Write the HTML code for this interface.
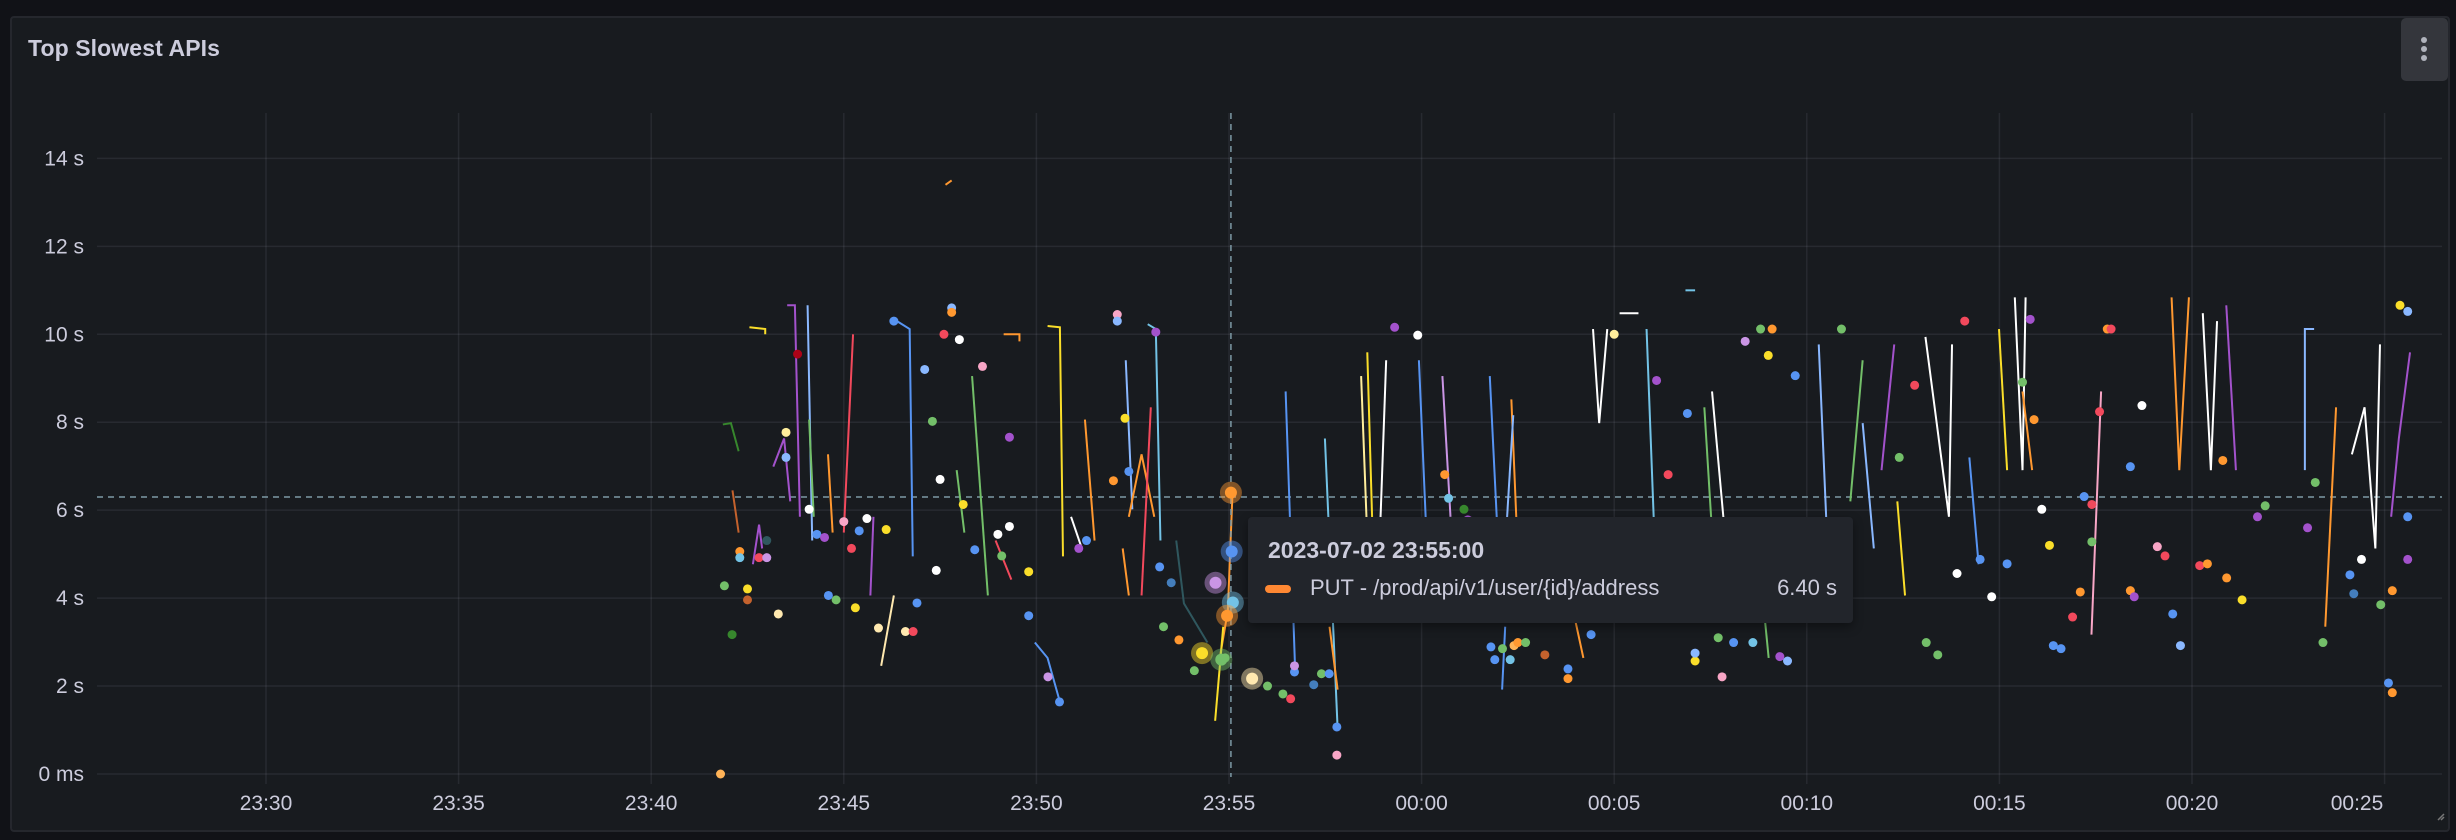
<!DOCTYPE html>
<html><head><meta charset="utf-8"><style>
html,body{margin:0;padding:0;background:#111217;width:2456px;height:840px;overflow:hidden;font-family:"Liberation Sans",sans-serif;}
#panel{position:absolute;left:10px;top:16px;width:2440px;height:816px;background:#181b1f;border:2px solid #25272d;border-radius:4px;box-sizing:border-box;}
#title{position:absolute;left:28px;top:35px;color:#ccccdc;font-size:23px;font-weight:bold;letter-spacing:0.1px;}
#menu{position:absolute;left:2401px;top:18px;width:47px;height:63px;background:#34363c;border-radius:5px;}
#menu i{position:absolute;left:20px;width:6px;height:6px;border-radius:3px;background:#b0b3bc;}
#tip{position:absolute;left:1248px;top:517px;width:605px;height:106px;background:#22252b;border-radius:4px;box-shadow:0 4px 10px rgba(0,0,0,0.4);color:#ccccdc;}
#tip .t{position:absolute;left:20px;top:20px;font-size:23px;font-weight:bold;}
#tip .pill{position:absolute;left:17px;top:68px;width:26px;height:8px;border-radius:4px;background:#ff8833;}
#tip .n{position:absolute;left:62px;top:58px;font-size:22px;}
#tip .v{position:absolute;right:16px;top:58px;font-size:22px;}
svg{position:absolute;left:0;top:0;}
</style></head><body>
<div id="panel"></div>
<div id="title">Top Slowest APIs</div>
<div id="menu"><i style="top:19px"></i><i style="top:28px"></i><i style="top:37px"></i></div>
<svg id="chart" width="2456" height="840"></svg>
<div id="tip">
<div class="t">2023-07-02 23:55:00</div>
<div class="pill"></div>
<div class="n">PUT - /prod/api/v1/user/{id}/address</div>
<div class="v">6.40 s</div>
</div>
<script>
// time in minutes after 23:25, values in seconds
const yTicks=[0,2,4,6,8,10,12,14];
const yTickLabels=["0 ms","2 s","4 s","6 s","8 s","10 s","12 s","14 s"];
const xTicks=[5,10,15,20,25,30,35,40,45,50,55,60];
const xTickLabels=["23:30","23:35","23:40","23:45","23:50","23:55","00:00","00:05","00:10","00:15","00:20","00:25"];
const thresholdValue=6.3;
const cursorTime=30.05;
const palette={green:"#73bf69",dgreen:"#37872d",orange:"#ff9830",lblue:"#8ab8ff",blue:"#5794f2",yellow:"#fade2a",red:"#f2495c",purple:"#a352cc",lav:"#ca95e5",pink:"#f8a6c6",cream:"#ffe9b0",white:"#ffffff",teal:"#447ebc",cyan:"#73c3e6",peach:"#ffb357",brown:"#c4622d",dteal:"#2f575e",vpurple:"#8f3bb8",lyellow:"#ffee9c",dred:"#ad0317"};
const dotTimes=[16.8,16.9,17.1,17.3,17.3,17.5,17.5,17.8,18.0,18.0,18.3,18.5,18.5,18.8,19.1,19.3,19.5,19.6,19.8,20.0,20.2,20.3,20.4,20.6,20.9,21.1,21.3,21.6,21.8,21.9,22.1,22.3,22.4,22.5,22.6,22.8,22.8,23.0,23.1,23.4,23.6,24.0,24.1,24.3,24.3,24.8,24.8,25.3,25.6,26.1,26.3,27.0,27.1,27.1,27.3,27.4,28.1,28.2,28.3,28.5,28.7,29.1,29.9,31.0,31.4,31.6,31.7,31.7,32.2,32.4,32.6,32.8,32.8,
34.3,34.9,35.6,35.7,36.1,36.2,36.8,36.9,37.1,37.3,37.4,37.5,37.7,38.2,38.8,38.8,39.4,40.0,41.1,41.4,41.9,42.1,42.1,42.7,42.8,43.1,43.4,43.6,43.8,44.0,44.1,44.3,44.5,44.7,45.9,47.4,47.8,48.1,48.4,48.9,49.1,49.5,49.8,50.2,50.6,50.8,50.9,51.1,51.3,51.4,51.6,51.9,52.1,52.2,52.4,52.4,52.6,52.8,52.9,53.4,53.4,53.5,53.7,54.1,54.3,54.5,54.7,55.2,55.4,55.8,55.9,56.3,56.7,56.9,58.0,58.2,58.4,59.1,59.2,59.4,59.9,60.1,60.2,60.2,60.4,60.6,60.6,60.6];
const dotValues=[0,4.28,3.17,5.06,4.92,4.21,3.96,4.92,4.92,5.31,3.64,7.77,7.2,9.55,6.02,5.45,5.38,4.06,3.96,5.74,5.13,3.78,5.53,5.81,3.32,5.56,10.3,3.24,3.24,3.89,9.2,8.02,4.63,6.7,10.0,10.6,10.5,9.88,6.13,5.1,9.27,5.45,4.96,7.66,5.63,3.6,4.6,2.21,1.64,5.13,5.31,6.67,10.45,10.3,8.09,6.88,10.05,4.71,3.35,4.35,3.05,2.35,2.64,2.0,1.82,1.71,2.32,2.46,2.03,2.28,2.28,1.07,0.43,
10.16,9.98,6.81,6.27,6.02,5.78,2.89,2.6,2.85,2.6,2.92,2.99,2.99,2.71,2.39,2.17,3.17,10.0,8.95,6.81,8.2,2.57,2.75,3.1,2.21,2.99,9.84,2.99,10.12,9.52,10.12,2.67,2.57,9.06,10.12,7.2,8.84,2.99,2.71,4.56,10.3,4.88,4.03,4.78,8.91,10.34,8.06,6.02,5.2,2.92,2.85,3.57,4.14,6.31,6.13,5.28,8.24,10.12,10.12,4.17,6.99,4.03,8.38,5.17,4.96,3.64,2.92,4.74,4.78,7.13,4.46,3.96,5.85,6.1,5.6,6.63,2.99,4.53,4.1,4.88,3.85,2.07,4.17,1.85,10.66,10.52,5.85,4.88];
const dotColors=["peach","green","dgreen","orange","cyan","yellow","brown","red","lav","dteal","cream","lyellow","lblue","dred","white","blue","purple","blue","green","pink","red","yellow","blue","white","cream","yellow","blue","cream","red","blue","lblue","green","white","white","red","lblue","orange","white","yellow","blue","pink","white","green","purple","white","blue","yellow","lav","blue","purple","blue","orange","pink","lblue","yellow","blue","purple","blue","green","teal","orange","green","green","green","green","red","blue","lav","teal","green","blue","blue","pink",
"purple","white","orange","cyan","dgreen","purple","blue","blue","green","cyan","peach","orange","green","brown","blue","orange","blue","lyellow","purple","red","blue","yellow","lblue","green","pink","blue","lav","cyan","green","yellow","orange","purple","lblue","blue","green","green","red","green","green","white","red","blue","white","blue","green","purple","orange","white","yellow","blue","blue","red","orange","blue","red","green","red","orange","red","orange","blue","purple","white","pink","red","blue","lblue","red","orange","orange","orange","yellow","purple","green","purple","green","green","blue","teal","white","green","blue","orange","orange","yellow","lblue","blue","purple"];
const lineTimes=[[16.86,17.07,17.27],[17.11,17.27],[17.64,17.8,17.88],[17.55,17.96,17.96],[18.53,18.73,18.86],[18.17,18.45,18.61],[19.06,19.18],[19.1,19.22],[20.0,20.24],[19.59,19.71],[21.38,21.71,21.79],[20.97,21.3],[20.69,20.77],[23.33,23.74],[22.93,23.13],[24.15,24.56,24.56],[23.94,24.35],[25.29,25.61,25.69],[24.96,25.29,25.61],[25.9,26.18],[26.26,26.51],[27.32,27.49],[27.89,28.1,28.22],[27.24,27.4],[27.4,27.73,28.06],[27.73,27.97],[29.76,29.97,30.09],[28.63,28.83,29.44],[29.64,29.85],[31.47,31.72],[32.49,32.82],[32.61,32.82],[33.43,33.63],[33.92,34.08],[33.59,33.75],[34.93,35.14],[35.54,35.75],[37.33,37.5],[36.77,36.97],[37.17,37.38],[39.45,39.61,39.82],[40.84,41.04],[40.14,40.63],[42.34,42.54],[41.85,42.1],[42.54,42.87],[45.31,45.52],[46.45,46.74],[48.08,48.69,48.77],[49.99,50.2],[50.4,50.6,50.68],[50.6,50.85],[52.39,52.64],[54.47,54.67,54.92],[55.28,55.49,55.65],[55.89,56.14],[57.93,57.93,58.17],[59.15,59.48,59.76,59.88],[60.17,60.37,60.66],[58.46,58.74],[49.22,49.46],[47.35,47.55],[46.94,47.27],[46.13,46.45],[37.09,37.17],[43.89,44.01],[38.98,39.2],[22.64,22.8]];
const lineValues=[[7.95,7.98,7.34],[6.45,5.49],[4.77,5.67,5.13],[10.16,10.12,10.0],[10.66,10.66,5.85],[6.99,7.63,6.2],[10.66,5.31],[8.06,5.85],[5.49,10.0],[7.27,5.49],[10.3,10.12,4.95],[2.46,4.06],[4.06,5.85],[9.05,4.06],[6.91,5.49],[10.0,10.0,9.84],[5.31,4.42],[10.19,10.16,4.95],[2.99,2.64,1.64],[5.85,5.13],[8.06,5.31],[9.41,6.02],[10.23,10.12,5.31],[5.13,4.06],[5.85,7.27,5.85],[4.06,8.34],[2.64,3.71,6.38],[5.31,3.88,2.99],[1.21,3.35],[8.7,2.28],[7.63,1.03],[3.35,1.92],[9.05,4.42],[5.49,9.41],[9.59,4.77],[9.41,5.13],[9.05,5.85],[8.52,4.95],[9.05,5.49],[5.13,8.16],[10.12,7.98,10.12],[10.12,5.49],[10.48,10.48],[8.34,5.49],[11.0,11.0],[8.7,5.49],[9.77,5.49],[7.98,5.13],[9.94,5.85,9.77],[10.12,6.91],[10.84,6.91,10.84],[8.7,6.91],[3.17,8.7],[10.84,6.91,10.84],[10.48,6.91,10.3],[10.66,6.91],[6.91,10.12,10.12],[7.27,8.34,5.13,9.77],[5.85,7.63,9.59],[3.35,8.34],[7.2,4.77],[6.2,4.06],[6.91,9.77],[6.2,9.41],[1.92,3.35],[3.71,2.64],[3.53,2.64],[13.4,13.5]];
const lineColors=["dgreen","brown","purple","yellow","purple","purple","lblue","green","red","orange","blue","cream","purple","green","green","orange","red","yellow","blue","white","orange","lblue","cyan","orange","orange","red","orange","dteal","yellow","blue","cyan","orange","lyellow","white","yellow","blue","lav","orange","blue","lblue","white","cyan","white","green","cyan","white","lblue","lblue","white","yellow","white","orange","pink","orange","white","purple","lblue","white","purple","orange","blue","yellow","purple","green","blue","green","orange","orange"];
const highlightTimes=[30.05,30.07,30.1,29.95,29.3,29.65,30.6,29.8];
const highlightValues=[6.4,5.06,3.9,3.6,2.75,4.35,2.17,2.6];
const highlightColors=["orange","blue","cyan","orange","yellow","lav","cream","green"];

const L=97,R=2412,T=158,B=774;
const xS=m=>266+(m-5)*38.52;
const yS=v=>774-v*43.97;
const svg=document.getElementById('chart');
const NS="http://www.w3.org/2000/svg";
function mk(tag,attrs){const e=document.createElementNS(NS,tag);for(const k in attrs)e.setAttribute(k,attrs[k]);svg.appendChild(e);return e;}
yTicks.forEach((v,i)=>{
  const g=mk('line',{x1:L,x2:R+30,y1:yS(v),y2:yS(v),stroke:'rgba(204,204,220,0.09)','stroke-width':1.5});
  
  
  const t=mk('text',{x:84,y:yS(v)+7,'text-anchor':'end',fill:'#ccccdc','font-size':21,'font-family':'Liberation Sans, sans-serif'});
  t.textContent=yTickLabels[i];
  
  
});
xTicks.forEach((m,i)=>{
  const g=mk('line',{x1:xS(m),x2:xS(m),y1:113,y2:784,stroke:'rgba(204,204,220,0.09)','stroke-width':1.5});
  
  
  const t=mk('text',{x:Math.min(xS(m),2357),y:810,'text-anchor':'middle',fill:'#ccccdc','font-size':21,'font-family':'Liberation Sans, sans-serif'});
  t.textContent=xTickLabels[i];
  
  
});
const th=mk('line',{x1:L,x2:R+30,y1:yS(thresholdValue),y2:yS(thresholdValue),stroke:'#7d9aa6','stroke-width':1.5,'stroke-dasharray':'6,5'});


lineTimes.forEach((ts,i)=>{
  const pts=ts.map((m,j)=>xS(m)+','+yS(lineValues[i][j])).join(' ');
  const p=mk('polyline',{points:pts,fill:'none',stroke:palette[lineColors[i]],'stroke-width':2});
  
  
});
dotTimes.forEach((m,i)=>{
  const c=mk('circle',{cx:xS(m),cy:yS(dotValues[i]),r:4.5,fill:palette[dotColors[i]]});
  
  
});
const cv=mk('line',{x1:xS(cursorTime),x2:xS(cursorTime),y1:113,y2:777,stroke:'#7d9aa6','stroke-width':1.5,'stroke-dasharray':'6,5'});


highlightTimes.forEach((m,i)=>{
  const h=mk('circle',{cx:xS(m),cy:yS(highlightValues[i]),r:11,fill:palette[highlightColors[i]],'fill-opacity':0.45});
  
  
  const c=mk('circle',{cx:xS(m),cy:yS(highlightValues[i]),r:6,fill:palette[highlightColors[i]]});
  
  
});
const rz=mk('path',{d:'M2438 820 L2444 814 M2441 820 L2444 817',stroke:'#777','stroke-width':1.5});


</script>
</body></html>
